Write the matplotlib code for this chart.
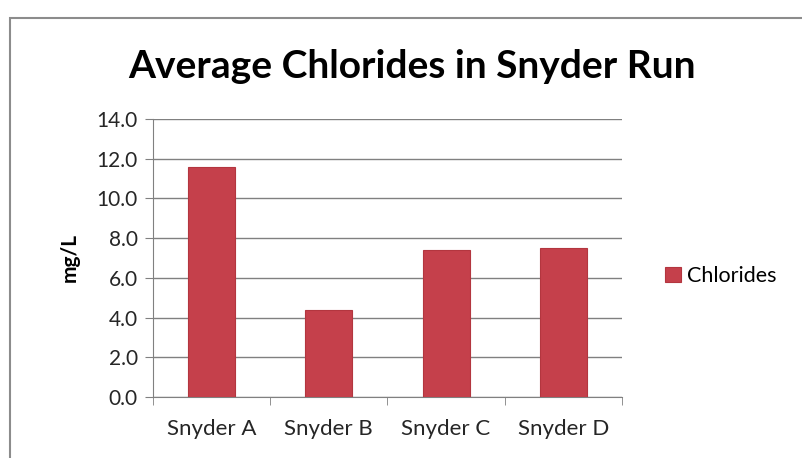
import numpy as np
import matplotlib.pyplot as plt
from matplotlib.patches import Rectangle

sites = ['Snyder A', 'Snyder B', 'Snyder C', 'Snyder D']
chlorides = [11.6, 4.4, 7.4, 7.5]
y_ticks = [0.0, 2.0, 4.0, 6.0, 8.0, 10.0, 12.0, 14.0]

plt.rcParams['font.family'] = ['Lato', 'DejaVu Sans']

fig = plt.figure(figsize=(8.03, 4.58), dpi=100)
# chart area outline (runs off the right and bottom edges)
fig.patches.append(Rectangle((10 / 803, -0.1), 1.0, 1 - 18 / 458 + 0.1,
                             transform=fig.transFigure, fill=False,
                             edgecolor='#8c8c8c', linewidth=1.5))

ax = fig.add_axes([153 / 803, 1 - 397 / 458, (622 - 153) / 803, (397 - 119) / 458])

ind = np.arange(len(sites))
ax.bar(ind, chlorides, 0.4, color='#c5404b', edgecolor='#b3363f',
       linewidth=0.8, label='Chlorides', zorder=3)

ax.set_xlim(-0.5, len(sites) - 0.5)
ax.set_ylim(0, 14)
ax.set_yticks(y_ticks)
ax.set_yticklabels(['%.1f' % v for v in y_ticks], fontsize=15, color='#262626')
ax.set_xticks(ind)
ax.set_xticklabels(sites, fontsize=16, color='#262626')
ax.set_xticks(np.arange(len(sites) + 1) - 0.5, minor=True)
ax.tick_params(axis='x', which='major', length=0, pad=16)
ax.tick_params(axis='x', which='minor', length=6, color='#808080')
ax.tick_params(axis='y', length=6, color='#808080', pad=5)
ax.grid(axis='y', color='#808080', linewidth=1, zorder=0)

for side in ['top', 'right']:
    ax.spines[side].set_visible(False)
ax.spines['left'].set_color('#808080')
ax.spines['bottom'].set_color('#808080')

ax.set_ylabel('mg/L', fontsize=15, fontweight='bold', labelpad=12)
fig.text(412 / 803, 1 - 66 / 458, 'Average Chlorides in Snyder Run',
         fontsize=28, fontweight='bold', ha='center', va='center')

ax.legend(loc='center left', bbox_to_anchor=(1.05, 0.435), frameon=False,
          fontsize=15.5, handlelength=0.75, handleheight=0.75, handletextpad=0.3)

fig.savefig('out.png', dpi=100)
